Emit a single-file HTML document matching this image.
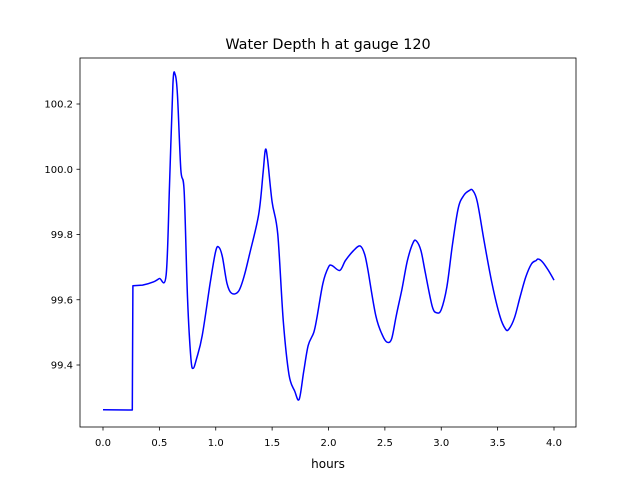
<!DOCTYPE html>
<html><head><meta charset="utf-8"><style>
body{margin:0;background:#fff;font-family:"Liberation Sans","DejaVu Sans",sans-serif;}
svg text{font-family:"DejaVu Sans","Liberation Sans",sans-serif;}
</style></head><body>
<svg id="chart" width="640" height="480">
<rect width="640" height="480" fill="#fff"/>
<text x="328" y="49" font-size="14.4" text-anchor="middle">Water Depth h at gauge 120</text>
<g id="xt"></g><g id="yt"></g>
<path id="line" fill="none" stroke="#0000ff" stroke-width="1.5" stroke-linejoin="round"/>
<rect x="80" y="58" width="496" height="369" fill="none" stroke="#000" stroke-width="0.8"/>
<text x="328" y="468" font-size="12" text-anchor="middle">hours</text>
</svg>
<script>
const hours=[0,0.26,0.265,0.35,0.45,0.5,0.56,0.59,0.62,0.64,0.66,0.69,0.72,0.75,0.78,0.8,0.83,0.88,0.95,1.0,1.03,1.06,1.1,1.14,1.2,1.25,1.3,1.38,1.42,1.44,1.46,1.5,1.55,1.6,1.65,1.7,1.74,1.78,1.82,1.87,1.9,1.95,2.0,2.03,2.1,2.15,2.22,2.28,2.32,2.35,2.42,2.48,2.52,2.56,2.6,2.65,2.7,2.75,2.78,2.82,2.86,2.92,2.96,3.0,3.05,3.1,3.15,3.2,3.25,3.28,3.32,3.38,3.45,3.52,3.57,3.6,3.65,3.7,3.75,3.8,3.84,3.86,3.9,3.95,4.0];
const depth=[99.263,99.262,99.643,99.645,99.655,99.665,99.675,99.95,100.26,100.29,100.23,100.0,99.93,99.6,99.42,99.39,99.42,99.49,99.65,99.75,99.76,99.73,99.65,99.62,99.625,99.67,99.74,99.86,99.99,100.06,100.03,99.9,99.8,99.53,99.37,99.32,99.295,99.38,99.46,99.5,99.55,99.65,99.70,99.705,99.69,99.72,99.75,99.765,99.74,99.69,99.55,99.49,99.47,99.48,99.55,99.63,99.72,99.775,99.78,99.75,99.68,99.58,99.56,99.57,99.64,99.77,99.88,99.92,99.935,99.935,99.9,99.78,99.65,99.55,99.51,99.51,99.545,99.61,99.67,99.71,99.72,99.725,99.715,99.69,99.66];
const xTicks=[0,0.5,1,1.5,2,2.5,3,3.5,4];
const yTicks=[99.4,99.6,99.8,100.0,100.2];
const X=v=>103+v*112.75;
const Y=v=>104+(100.2-v)*326.25;
const NS="http://www.w3.org/2000/svg";
const xt=document.getElementById('xt'),yt=document.getElementById('yt');
xTicks.forEach(t=>{
 const l=document.createElementNS(NS,'line');
 
 
 l.setAttribute('x1',X(t));l.setAttribute('x2',X(t));l.setAttribute('y1',427);l.setAttribute('y2',430.5);l.setAttribute('stroke','#000');l.setAttribute('stroke-width','0.8');xt.appendChild(l);
 const s=document.createElementNS(NS,'text');
 
 
 s.setAttribute('x',X(t));s.setAttribute('y',446);s.setAttribute('font-size','10');s.setAttribute('text-anchor','middle');s.textContent=t.toFixed(1);xt.appendChild(s);
});
yTicks.forEach(t=>{
 const l=document.createElementNS(NS,'line');
 
 
 l.setAttribute('x1',76.5);l.setAttribute('x2',80);l.setAttribute('y1',Y(t));l.setAttribute('y2',Y(t));l.setAttribute('stroke','#000');l.setAttribute('stroke-width','0.8');yt.appendChild(l);
 const s=document.createElementNS(NS,'text');
 
 
 s.setAttribute('x',73);s.setAttribute('y',Y(t)+3.5);s.setAttribute('font-size','10');s.setAttribute('text-anchor','end');s.textContent=t.toFixed(1);yt.appendChild(s);
});
const P=hours.map((h,i)=>[X(h),Y(depth[i])]);
let d='M'+P[0][0].toFixed(1)+','+P[0][1].toFixed(1);
for(let i=0;i<P.length-1;i++){
 const a=P[i],b=P[i+1];
 if(b[0]-a[0]<2||(i>0&&a[0]-P[i-1][0]<2)||(i+2<P.length&&P[i+2][0]-b[0]<2)){d+='L'+b[0].toFixed(1)+','+b[1].toFixed(1);continue;}
 const p0=i>0?P[i-1]:a,p3=i+2<P.length?P[i+2]:b;
 const c1=[a[0]+(b[0]-p0[0])/6,a[1]+(b[1]-p0[1])/6];
 const c2=[b[0]-(p3[0]-a[0])/6,b[1]-(p3[1]-a[1])/6];
 d+='C'+c1[0].toFixed(1)+','+c1[1].toFixed(1)+' '+c2[0].toFixed(1)+','+c2[1].toFixed(1)+' '+b[0].toFixed(1)+','+b[1].toFixed(1);
}
document.getElementById('line').setAttribute('d',d);
</script>
</body></html>
